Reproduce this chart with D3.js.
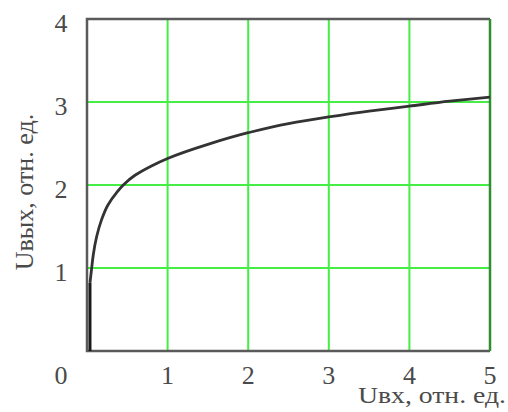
<!DOCTYPE html>
<html>
<head>
<meta charset="utf-8">
<script src="https://cdn.jsdelivr.net/npm/d3@7/dist/d3.min.js"></script>
<style>
  html, body { margin: 0; padding: 0; background: #fff; }
  svg { display: block; }
  text { font-family: "Liberation Serif", "Times New Roman", serif; fill: #4a4a4a; }
</style>
</head>
<body>
<script>
// Transfer characteristic: output vs input voltage (relative units)
const uIn  = [0.037, 0.037, 0.058, 0.078, 0.12, 0.18, 0.26, 0.37, 0.45, 0.60, 0.80, 1.00, 1.50, 2.00, 2.50, 3.00, 3.50, 4.00, 4.50, 5.00];
const uOut = [0.00, 0.82, 1.00, 1.16, 1.38, 1.58, 1.76, 1.91, 2.00, 2.12, 2.23, 2.32, 2.49, 2.63, 2.74, 2.82, 2.89, 2.95, 3.01, 3.06];
const xTicks = [1, 2, 3, 4, 5];
const yTicks = [1, 2, 3, 4];
const xTitle = "Uвх, отн. ед.";
const yTitle = "Uвых, отн. ед.";

const W = 508, H = 412;
const svg = d3.select("body").append("svg").attr("width", W).attr("height", H);

const x = d3.scaleLinear().domain([0, 5]).range([87, 490]);
const y = d3.scaleLinear().domain([0, 4]).range([351, 19]);

// green grid
const grid = svg.append("g").attr("stroke", "#44ee44").attr("stroke-width", 2);
grid.selectAll("line.gx").data(xTicks).join("line")
  .attr("x1", d => x(d)).attr("x2", d => x(d))
  .attr("y1", y(0)).attr("y2", y(4));
grid.selectAll("line.gy").data(yTicks.filter(d => d < 4)).join("line")
  .attr("x1", x(0)).attr("x2", x(5))
  .attr("y1", d => y(d)).attr("y2", d => y(d));

// frame (right edge coincides with the x = 5 grid line)
svg.append("path")
  .attr("d", `M${x(5)},${y(4)} L${x(0)},${y(4)} L${x(0)},${y(0)} L${x(5)},${y(0)}`)
  .attr("fill", "none").attr("stroke", "#5a5a5a").attr("stroke-width", 2.5);
svg.append("line").attr("stroke", "#2f8f2f").attr("stroke-width", 2.5)
  .attr("x1", x(5)).attr("x2", x(5)).attr("y1", y(4)).attr("y2", y(0));

// curve: vertical rise near zero input, then smooth saturation
const pts = uIn.map((v, i) => [v, uOut[i]]);
svg.append("path").datum(pts.slice(0, 2))
  .attr("d", d3.line().x(d => x(d[0])).y(d => y(d[1])))
  .attr("fill", "none").attr("stroke", "#1a1a1a").attr("stroke-width", 3);
svg.append("path").datum(pts.slice(1))
  .attr("d", d3.line().x(d => x(d[0])).y(d => y(d[1])).curve(d3.curveMonotoneY))
  .attr("fill", "none").attr("stroke", "#333").attr("stroke-width", 2.8);

// tick labels
const fs = 26;
svg.selectAll("text.xt").data(xTicks).join("text")
  .attr("x", d => x(d)).attr("y", 384)
  .attr("text-anchor", "middle").attr("font-size", fs).text(d => d);
svg.selectAll("text.yt").data(yTicks).join("text")
  .attr("x", 61).attr("y", d => y(d) + 13)
  .attr("text-anchor", "middle").attr("font-size", fs).text(d => d);
svg.append("text").attr("x", 61).attr("y", 384)
  .attr("text-anchor", "middle").attr("font-size", fs).text("0");

// axis titles
svg.append("text").attr("x", 358).attr("y", 403)
  .attr("font-size", 23)
  .attr("textLength", 148).attr("lengthAdjust", "spacingAndGlyphs")
  .text(xTitle);
svg.append("text")
  .attr("transform", `translate(33,${192}) rotate(-90)`)
  .attr("text-anchor", "middle").attr("font-size", fs).text(yTitle);
</script>
</body>
</html>
